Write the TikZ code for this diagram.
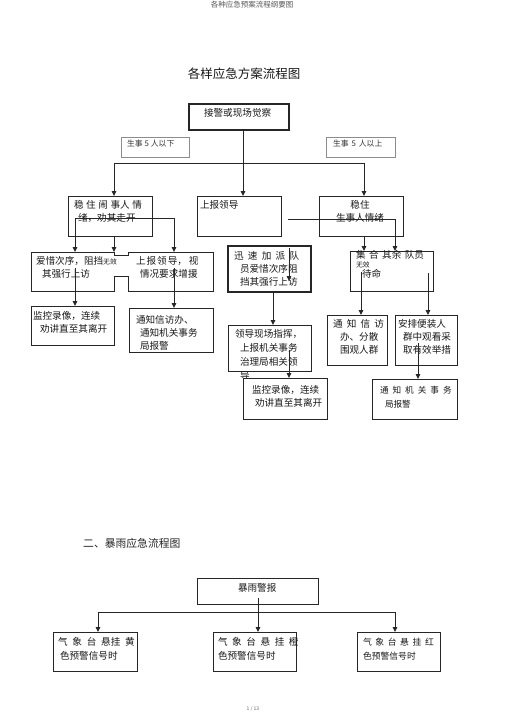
\documentclass[tikz,border=0pt]{standalone}
\usepackage{fontspec}
\setmainfont{Noto Sans CJK SC}
\usetikzlibrary{arrows.meta,fit}
\newcommand\myg[1][4.5]{\hspace{#1pt}}
\begin{document}
\begin{tikzpicture}[x=1pt,y=-1pt,
  box/.style={draw=black!85, line width=0.9pt, inner sep=0pt, outer sep=0pt},
  thbox/.style={box, line width=1.4pt},
  lbox/.style={draw=black!45, line width=0.7pt, inner sep=0pt, outer sep=0pt},
  tx/.style={anchor=north west, inner sep=0pt, outer sep=0pt, align=left, text=black!90, font=\fontsize{9.6}{13}\selectfont},
  txw/.style={tx, font=\fontsize{9.6}{14}\selectfont},
  ln/.style={draw=black!85, line width=0.9pt},
  arr/.style={ln, -{Triangle[width=4.5pt,length=5pt]}}]
\useasboundingbox (0,0) rectangle (505,714);
\fill[white] (0,0) rectangle (505,714);

% headings
\node[inner sep=0pt, text=black!65, font=\fontsize{7.5}{9}\selectfont] (hdr) at (252,5) {各种应急预案流程纲要图};
\node[inner sep=0pt, text=black!90, font=\fontsize{12.5}{15}\selectfont] (ttl) at (244,74) {各样应急方案流程图};

% ---------- boxes, part one ----------
\node[thbox, fit={(189,104) (289,130)}] (B0) {};
\node[lbox, fit={(121,137) (189,157)}] (L1) {};
\node[lbox, fit={(326,137) (395,157)}] (L2) {};
\node[box, fit={(68,196) (152,236)}] (B1) {};
\node[box, fit={(197,196) (281,236)}] (B2) {};
\node[box, fit={(319,196) (403,236)}] (B3) {};
\node[box, fit={(31,252) (114,291)}] (B4) {};
\node[box, fit={(128,252) (213,291)}] (B5) {};
\fill[white] (113,255.5) rectangle (129,275.5);
\draw[ln] (114,255) -- (128,255) (114,276) -- (128,276);
\node[thbox, fit={(228,246) (311,292)}] (B6) {};
\node[box, fit={(350,251) (433,291)}] (B7) {};
\node[box, fit={(31,306) (114,345)}] (B8) {};
\node[box, fit={(129,308) (213,352)}] (B9) {};
\node[box, fit={(228,325) (311,371)}] (B10) {};
\node[box, fit={(327,315) (387,365)}] (B12) {};
\node[box, fit={(395,315) (457,365)}] (B13) {};

% ---------- texts, part one ----------
\node[tx] (T0) at (204,108.5) {接警或现场觉察};
\node[tx, text=black!80, font=\fontsize{7.8}{9}\selectfont] (TL1) at (127,140) {生事\myg[2]5\myg[2]人以下};
\node[tx, text=black!80, font=\fontsize{7.8}{9}\selectfont] (TL2) at (333,140) {生事\myg[3]5\myg[3]人以上};
\node[tx] (T1) at (74,200.5) {稳\myg[2.6]住\myg[2.6]闹\myg[2.6]事人\myg[2.6]情\\\hspace*{4pt}绪，劝其走开};
\node[tx] (T2) at (200,200.5) {上报领导};
\node[tx, align=center] (T3) at (336,200.5) {稳住\\生事人情绪};
\node[tx] (T4) at (36,256.5) {爱惜次序，阻挡{\fontsize{6.8}{8}\selectfont 无效}\\\hspace*{6pt}其强行上访};
\node[tx] (T5) at (136,256.5) {上\myg[1]报\myg[1]领\myg[1]导，\myg[2]视\\\hspace*{4pt}情况要求增援};
\node[tx] (T8) at (33,311.5) {监控录像，连续\\\hspace*{7pt}劝讲直至其离开};
\node[tx] (T9) at (136,315.5) {通知信访办、\\\hspace*{4pt}通知机关事务\\\hspace*{4pt}局报警};
\node[tx] (T6) at (234,251.5) {迅\myg[4.3]速\myg[4.3]加\myg[4.3]派\myg[4.3]队\\\hspace*{6pt}员爱惜次序阻\\\hspace*{6pt}挡其强行上访};
\node[tx] (T7) at (356,250.5) {集\myg[3.5]合\myg[3.5]其余\myg[3.5]队员\\[-4pt]{\fontsize{6.8}{8}\selectfont 无效}\\[-3pt]\hspace*{6pt}待命};
\node[txw] (T10) at (235,329.5) {领导现场指挥，\\\hspace*{5pt}上报机关事务\\\hspace*{5pt}治理局相关领\\\hspace*{5pt}导};
\node[box, fill=white, fit={(243,378) (327,419)}] (B11) {};
\node[tx] (T11) at (252,385.5) {监控录像，连续\\\hspace*{3pt}劝讲直至其离开};
\node[tx] (T12) at (333,319.5) {通\myg[4.2]知\myg[4.2]信\myg[4.2]访\\\hspace*{7pt}办、分散\\\hspace*{7pt}围观人群};
\node[tx] (T13) at (398,319.5) {安排便装人\\\hspace*{5pt}群中观看采\\\hspace*{5pt}取有效举措};
\node[box, fit={(372,379) (457,419)}] (B14) {};
\node[tx, font=\fontsize{8.6}{14}\selectfont] (T14) at (380,386) {通\myg[4]知\myg[4]机\myg[4]关\myg[4]事\myg[4]务\\\hspace*{5pt}局报警};

% ---------- connectors, part one ----------
\coordinate (j0) at (243,163);
\coordinate (jl) at (114,163);
\coordinate (jr) at (364,163);
\draw[ln] (j0 |- B0.south) -- (j0);
\draw[ln] (jl) -- (jr);
\draw[arr] (jl) -- (jl |- B1.north);
\draw[arr] (j0) -- (j0 |- B2.north);
\draw[arr] (jr) -- (jr |- B3.north);

\coordinate (c1) at (75,218);
\coordinate (c2) at (174,218);
\draw[ln] (c1) -- (c2);
\draw[arr] (c1) -- (c1 |- B4.north);
\draw[arr] (c2) -- (c2 |- B5.north);
\draw[arr] (jl |- B1.south) -- (jl |- B4.north);

\coordinate (c3) at (288,219);
\coordinate (c4) at (395,219);
\draw[arr] (c3) -- (c4) -- (c4 |- B7.north);
\draw[arr] (jr |- B3.south) -- (jr |- B7.north);
\coordinate (c5) at (289,248);
\coordinate (c6) at (289,281);
\draw[arr] (c5) -- (c6);

\coordinate (c9) at (75,268);
\coordinate (c10) at (174,268);
\draw[arr] (c9) -- (c9 |- B8.north);
\draw[arr] (c10) -- (c10 |- B9.north);

\coordinate (c7) at (273,292);
\draw[arr] (c7 |- B6.south) -- (c7 |- B10.north);
\coordinate (c8) at (289,350);
\draw[arr] (c8) -- (c8 |- B11.north);

\coordinate (c11) at (361,272);
\coordinate (c12) at (428,273);
\draw[arr] (c11) -- (c11 |- B12.north);
\draw[arr] (c12) -- (c12 |- B13.north);
\coordinate (c13) at (418,343);
\draw[arr] (c13) -- (c13 |- B14.north);

% ---------- part two ----------
\node[anchor=west, inner sep=0pt, text=black!85, font=\fontsize{10.8}{13}\selectfont] (sec2) at (83,543) {二、暴雨应急流程图};
\node[box, fit={(197,578) (318,604)}] (B15) {};
\node[box, fit={(53,632) (137,671)}] (B16) {};
\node[box, fit={(213,632) (296,671)}] (B17) {};
\node[box, fit={(357,632) (440,671)}] (B18) {};
\node[tx] (T15) at (238,583.5) {暴雨警报};
\node[txw] (T16) at (58,637.5) {气\myg[4.8]象\myg[4.8]台\myg[4.8]悬挂\myg[4.8]黄\\\hspace*{2pt}色预警信号时};
\node[txw] (T17) at (218,637.5) {气\myg[4.6]象\myg[4.6]台\myg[4.6]悬\myg[4.6]挂\myg[4.6]橙\\色预警信号时};
\node[txw, font=\fontsize{8.8}{14}\selectfont] (T18) at (363,638) {气\myg[3.6]象\myg[3.6]台\myg[3.6]悬\myg[3.6]挂\myg[3.6]红\\色预警信号时};

\coordinate (k0) at (258,598);
\coordinate (kl) at (98,612);
\coordinate (kr) at (395,612);
\draw[ln] (kl) -- (kr);
\draw[arr] (k0) -- (k0 |- B17.north);
\draw[arr] (kl) -- (kl |- B16.north);
\draw[arr] (kr) -- (kr |- B18.north);

\node[inner sep=0pt, text=black!60, font=\fontsize{5}{6}\selectfont] (pg) at (253,709) {1 / 13};
\end{tikzpicture}
\end{document}
